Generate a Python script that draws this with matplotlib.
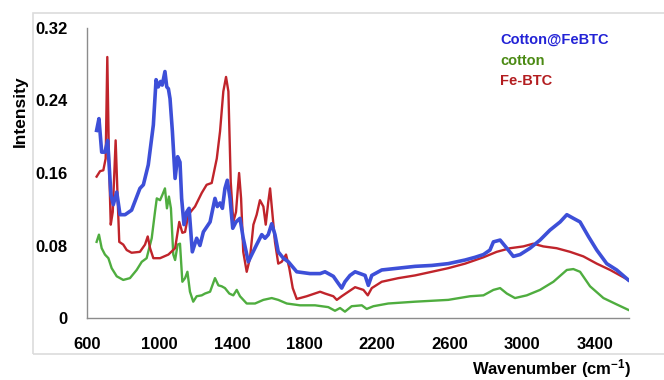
import matplotlib
matplotlib.use("Agg")
import matplotlib.pyplot as plt
from matplotlib.patches import Rectangle

plt.rcParams['font.family'] = ['Liberation Sans', 'DejaVu Sans']
plt.rcParams['mathtext.fontset'] = 'custom'
plt.rcParams['mathtext.bf'] = 'Liberation Sans:bold'
plt.rcParams['mathtext.rm'] = 'Liberation Sans:bold'
plt.rcParams['mathtext.default'] = 'bf'

# FTIR spectra (wavenumber in cm-1, intensity)
wn_composite = [653, 666, 681, 699, 714, 732, 745, 764, 782, 810,
                846, 892, 911, 938, 966, 981, 993, 1006, 1015, 1030,
                1040, 1049, 1058, 1071, 1086, 1100, 1113, 1122, 1135, 1150,
                1163, 1181, 1205, 1223, 1242, 1279, 1306, 1319, 1334, 1347,
                1361, 1374, 1389, 1404, 1422, 1444, 1462, 1490, 1509, 1536,
                1564, 1582, 1600, 1619, 1637, 1655, 1683, 1711, 1757, 1830,
                1886, 1913, 1959, 1987, 2005, 2023, 2051, 2079, 2134, 2152,
                2171, 2226, 2318, 2410, 2502, 2593, 2686, 2741, 2787, 2823,
                2842, 2879, 2916, 2952, 2989, 3044, 3099, 3154, 3210, 3247,
                3283, 3320, 3366, 3412, 3467, 3522, 3586]
int_composite = [0.207, 0.220, 0.183, 0.183, 0.196, 0.136, 0.125, 0.139, 0.114, 0.114,
                 0.119, 0.143, 0.147, 0.169, 0.213, 0.263, 0.255, 0.261, 0.257, 0.272,
                 0.255, 0.253, 0.242, 0.206, 0.154, 0.178, 0.172, 0.132, 0.103, 0.117,
                 0.121, 0.073, 0.088, 0.080, 0.095, 0.106, 0.132, 0.123, 0.127, 0.121,
                 0.143, 0.152, 0.132, 0.099, 0.106, 0.110, 0.088, 0.062, 0.070, 0.081,
                 0.092, 0.088, 0.092, 0.104, 0.092, 0.073, 0.066, 0.062, 0.051, 0.049,
                 0.049, 0.051, 0.046, 0.038, 0.033, 0.040, 0.047, 0.051, 0.047, 0.036,
                 0.047, 0.053, 0.055, 0.057, 0.058, 0.060, 0.064, 0.067, 0.070, 0.075,
                 0.084, 0.086, 0.077, 0.068, 0.070, 0.077, 0.086, 0.097, 0.106, 0.114,
                 0.110, 0.106, 0.090, 0.075, 0.060, 0.053, 0.042]

wn_mof = [653, 672, 690, 703, 712, 721, 731, 742, 758, 769,
          778, 800, 819, 846, 892, 920, 935, 948, 966, 1003,
          1049, 1086, 1109, 1126, 1141, 1159, 1196, 1233, 1260, 1288,
          1316, 1334, 1352, 1367, 1380, 1393, 1407, 1422, 1439, 1450,
          1462, 1481, 1499, 1518, 1536, 1554, 1573, 1586, 1600, 1610,
          1622, 1637, 1655, 1674, 1698, 1716, 1735, 1757, 1812, 1886,
          1913, 1959, 1978, 2005, 2042, 2079, 2125, 2149, 2171, 2226,
          2318, 2410, 2502, 2593, 2686, 2787, 2860, 2934, 3007, 3062,
          3117, 3191, 3265, 3338, 3412, 3486, 3586]
int_mof = [0.156, 0.162, 0.163, 0.176, 0.288, 0.176, 0.103, 0.117, 0.196, 0.132,
           0.084, 0.081, 0.075, 0.072, 0.073, 0.081, 0.090, 0.077, 0.066, 0.066,
           0.070, 0.077, 0.106, 0.094, 0.095, 0.114, 0.123, 0.138, 0.147, 0.149,
           0.176, 0.206, 0.250, 0.266, 0.250, 0.150, 0.106, 0.117, 0.160, 0.132,
           0.073, 0.051, 0.066, 0.103, 0.114, 0.130, 0.123, 0.103, 0.128, 0.143,
           0.117, 0.084, 0.060, 0.062, 0.070, 0.055, 0.033, 0.021, 0.024, 0.029,
           0.027, 0.024, 0.020, 0.024, 0.029, 0.034, 0.031, 0.025, 0.033, 0.040,
           0.044, 0.047, 0.051, 0.055, 0.060, 0.067, 0.073, 0.077, 0.079, 0.082,
           0.079, 0.077, 0.073, 0.068, 0.060, 0.053, 0.042]

wn_cotton = [653, 666, 681, 699, 718, 736, 764, 800, 837, 874,
             902, 929, 957, 975, 985, 1003, 1016, 1030, 1041, 1052,
             1063, 1076, 1086, 1100, 1113, 1126, 1141, 1154, 1168, 1186,
             1205, 1233, 1251, 1279, 1306, 1325, 1343, 1361, 1385, 1407,
             1426, 1444, 1481, 1527, 1573, 1619, 1655, 1702, 1775, 1858,
             1931, 1968, 1996, 2023, 2060, 2116, 2143, 2180, 2262, 2410,
             2593, 2713, 2787, 2842, 2879, 2916, 2961, 3026, 3099, 3173,
             3247, 3283, 3320, 3375, 3449, 3522, 3586]
int_cotton = [0.084, 0.092, 0.077, 0.070, 0.066, 0.055, 0.046, 0.042, 0.044, 0.053,
              0.062, 0.066, 0.088, 0.117, 0.132, 0.130, 0.136, 0.143, 0.121, 0.134,
              0.121, 0.070, 0.064, 0.081, 0.082, 0.040, 0.044, 0.051, 0.029, 0.018,
              0.024, 0.025, 0.027, 0.029, 0.044, 0.036, 0.035, 0.033, 0.027, 0.025,
              0.031, 0.024, 0.016, 0.016, 0.020, 0.022, 0.020, 0.016, 0.014, 0.014,
              0.012, 0.008, 0.011, 0.007, 0.013, 0.014, 0.010, 0.013, 0.016, 0.018,
              0.020, 0.024, 0.025, 0.031, 0.033, 0.027, 0.022, 0.025, 0.031, 0.040,
              0.053, 0.054, 0.051, 0.035, 0.022, 0.015, 0.009]

labels = ['Cotton@FeBTC', 'cotton', 'Fe-BTC']
x_ticks = [600, 1000, 1400, 1800, 2200, 2600, 3000, 3400]
y_ticks = [0, 0.08, 0.16, 0.24, 0.32]
y_tick_labels = ['0', '0.08', '0.16', '0.24', '0.32']

W, H = 664, 380
fig = plt.figure(figsize=(W / 100, H / 100), dpi=100)

# light outer frame
fig.patches.append(Rectangle((33 / W, 1 - 354 / H), 1.0, (354 - 13) / H,
                             transform=fig.transFigure, fill=False,
                             edgecolor='#dcdcdc', linewidth=1.2))

ax = fig.add_axes([87 / W, 1 - 318 / H, (629 - 87) / W, (318 - 28) / H])
ax.plot(wn_cotton, int_cotton, color='#4fad3f', lw=1.7, solid_joinstyle='round')
ax.plot(wn_mof, int_mof, color='#c0242b', lw=1.7, solid_joinstyle='round')
ax.plot(wn_composite, int_composite, color='#3d4fd8', lw=2.6, solid_joinstyle='round')

ax.set_xlim(600, 3590)
ax.set_ylim(0, 0.32)
ax.set_xticks(x_ticks)
ax.set_yticks(y_ticks)
ax.set_yticklabels(y_tick_labels)
ax.tick_params(length=0, labelsize=12)
ax.tick_params(axis='x', pad=14)
ax.tick_params(axis='y', pad=14)
for lbl in ax.get_xticklabels() + ax.get_yticklabels():
    lbl.set_fontweight('bold')
for side in ['top', 'right']:
    ax.spines[side].set_visible(False)
for side in ['left', 'bottom']:
    ax.spines[side].set_color('#8c8c8c')
    ax.spines[side].set_linewidth(1.0)

fig.text(20 / W, 1 - 111 / H, 'Intensity', rotation=90, ha='center', va='center',
         fontsize=12.5, fontweight='bold')
fig.text(552 / W, 1 - 369 / H, r'Wavenumber (cm$^{-1}$)', ha='center', va='center',
         fontsize=12, fontweight='bold')

legend_colors = ['#2323d6', '#4b8a14', '#b31d20']
for i, (txt, c) in enumerate(zip(labels, legend_colors)):
    fig.text(500 / W, 1 - (40 + 20.7 * i) / H, txt, color=c, ha='left', va='center',
             fontsize=10.5, fontweight='bold')

fig.savefig('out.png', dpi=100)
